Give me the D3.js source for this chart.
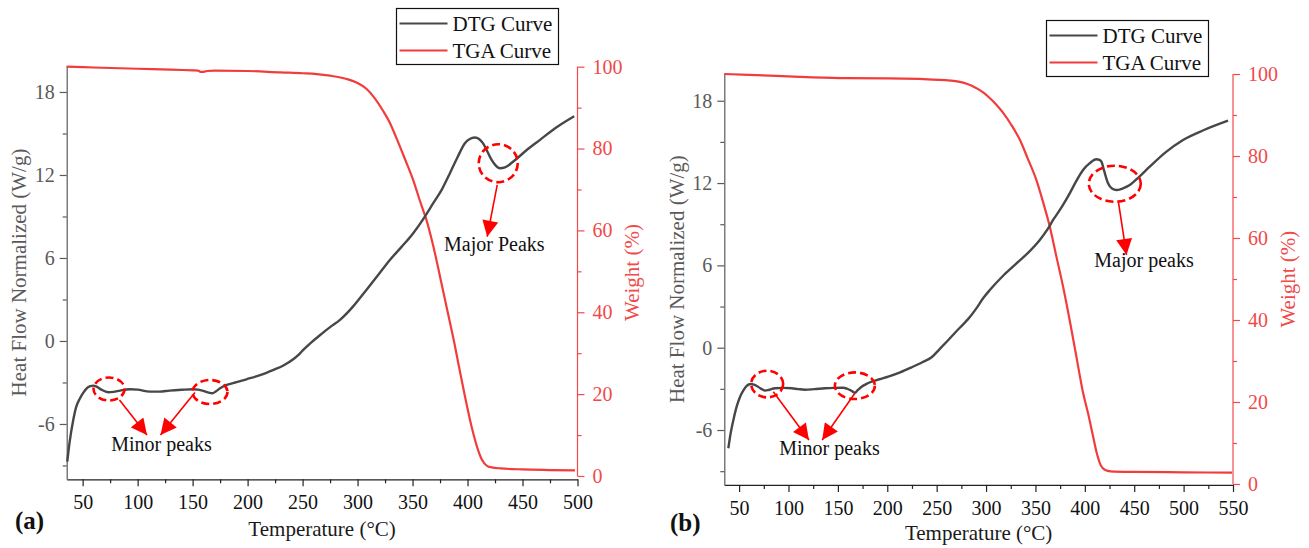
<!DOCTYPE html>
<html>
<head>
<meta charset="utf-8">
<script src="https://cdn.jsdelivr.net/npm/d3@7/dist/d3.min.js"></script>
<style>
  body { margin: 0; background: #fff; }
  svg { font-family: "Liberation Serif", "Times New Roman", serif; }
</style>
</head>
<body>
<div id="canvas"></div>
<script>
// ---- data ----
// panel (a)
var tempA_dtg = [36, 38, 41.5, 44, 47.6, 50.5, 53.7, 57, 59.7, 62.7, 67, 73.3, 78, 84, 93, 100, 111, 120, 129, 140,
  150.6, 155, 159.7, 164, 168, 171, 175, 181, 190, 199, 212, 223, 233, 241.5, 247, 250.6, 258, 266, 275, 284,
  296, 308, 318, 329.4, 340, 350.6, 360, 368.8, 377, 384, 391, 397.6, 402, 406.7, 410.5, 414, 418, 421.9, 425.5,
  429.5, 434, 441.6, 453, 465.9, 480, 497];
var dtgA = [-8.73, -7.4, -5.7, -4.8, -4.14, -3.75, -3.42, -3.27, -3.23, -3.3, -3.52, -3.71, -3.68, -3.59, -3.49, -3.52, -3.66, -3.66, -3.59, -3.53,
  -3.49, -3.52, -3.61, -3.72, -3.78, -3.65, -3.42, -3.18, -2.98, -2.77, -2.45, -2.1, -1.75, -1.32, -0.95, -0.65, -0.1, 0.43, 1.0, 1.52,
  2.5, 3.69, 4.7, 5.86, 6.8, 7.79, 8.85, 9.96, 11.0, 12.13, 13.3, 14.3, 14.6, 14.71, 14.6, 14.3, 13.7, 13.09, 12.7,
  12.49, 12.55, 12.97, 13.75, 14.54, 15.4, 16.25];
var tempA_tga = [35.5, 60, 100, 130, 150, 155, 157, 160, 163, 170, 200, 230, 250, 263, 275, 290, 300, 308, 315, 323,
  329, 335, 343, 350.6, 357, 362.7, 369, 375, 382, 388, 392, 398, 402, 405.6, 409, 413, 418, 422, 430, 450, 475, 497.7];
var tgaA = [100, 99.8, 99.5, 99.3, 99.1, 99.05, 98.75, 98.75, 98.95, 99.05, 98.95, 98.6, 98.4, 98.2, 97.8, 97.0, 96.0, 94.6, 92.5, 89.3,
  86.5, 82.8, 77.5, 72.3, 67, 62.5, 56, 48.7, 40, 32.5, 27, 19, 14, 10, 6.8, 4.0, 2.4, 2.1, 1.85, 1.6, 1.45, 1.35];

// panel (b)
var tempB_dtg = [39.1, 41.5, 44.2, 47.5, 51, 54.5, 57.7, 60.5, 62.7, 65, 67.8, 72, 76.2, 80, 86.3, 95, 103.2, 110, 116.7, 126,
  136.9, 146, 155.5, 159, 162.2, 165, 167.3, 170, 174, 179, 184.2, 192, 201, 213, 224.7, 235, 244.9, 253, 261.8, 270,
  276.8, 282, 290, 297, 303.8, 318, 330.8, 343, 354.4, 362, 367.9, 377, 384.7, 391, 398.2, 405, 411.7, 414.5, 416.8,
  419.5, 423.5, 427.5, 432, 438, 445.5, 455, 465.7, 482, 499.4, 520, 545];
var dtgB = [-7.33, -6.2, -5.27, -4.3, -3.57, -3.1, -2.79, -2.66, -2.65, -2.7, -2.79, -2.98, -3.13, -3.08, -2.96, -2.93, -2.96, -3.02, -3.06, -3.02,
  -2.96, -2.93, -2.92, -2.98, -3.08, -3.2, -3.28, -3.1, -2.84, -2.64, -2.48, -2.3, -2.11, -1.8, -1.43, -1.08, -0.7, -0.1, 0.56, 1.2,
  1.7, 2.1, 2.85, 3.6, 4.2, 5.3, 6.15, 6.95, 7.85, 8.6, 9.31, 10.3, 11.25, 12.1, 12.95, 13.45, 13.73, 13.7, 13.56,
  12.9, 11.98, 11.6, 11.49, 11.6, 11.86, 12.45, 13.19, 14.25, 15.14, 15.85, 16.55];
var tempB_tga = [35, 60, 100, 152.5, 200, 259, 276.8, 285, 292, 297, 302, 310, 317.3, 325, 334.1, 342, 351, 358, 364.5, 371,
  378, 385, 391.5, 398, 403.5, 408, 412, 416, 420.6, 426, 450, 500, 549];
var tgaB = [100, 99.8, 99.4, 99.0, 98.95, 98.5, 97.9, 97.2, 96.3, 95.5, 94.5, 92.6, 90.5, 87.8, 84.0, 79.5, 74.1, 68.5, 62.8, 55.7,
  48.1, 39.5, 31, 22.5, 17, 12, 7.6, 4.6, 3.4, 3.1, 2.95, 2.85, 2.76];

// ticks
var dtgTicks = [-6, 0, 6, 12, 18];
var dtgMinor = [-9, -3, 3, 9, 15];
var tgaTicks = [0, 20, 40, 60, 80, 100];
var tgaMinor = [10, 30, 50, 70, 90];
var tempTicksA = [50, 100, 150, 200, 250, 300, 350, 400, 450, 500];
var tempMinorA = [75, 125, 175, 225, 275, 325, 375, 425, 475];
var tempTicksB = [50, 100, 150, 200, 250, 300, 350, 400, 450, 500, 550];
var tempMinorB = [75, 125, 175, 225, 275, 325, 375, 425, 475, 525];

var seriesNames = ["DTG Curve", "TGA Curve"];

var GRAY = "#474747", AXGRAY = "#5a5a5a", RED = "#f23c3c", AXRED = "#f04a4a", ANN = "#ff0000";

var svg = d3.select("#canvas").append("svg")
  .attr("width", 1309)
  .attr("height", 548);

svg.append("defs").append("marker")
  .attr("id", "head")
  .attr("viewBox", "0 0 10 10")
  .attr("refX", 10).attr("refY", 5)
  .attr("markerUnits", "userSpaceOnUse")
  .attr("markerWidth", 17).attr("markerHeight", 16)
  .attr("orient", "auto")
  .append("path")
  .attr("d", "M0,0 L10,5 L0,10 Z")
  .attr("fill", ANN);

function drawPanel(p) {
  var x = d3.scaleLinear().domain(p.xDomain).range(p.xRange);
  var y = d3.scaleLinear().domain(p.yDomain).range(p.yRange);
  var y2 = d3.scaleLinear().domain(p.y2Domain).range(p.yRange);
  var g = svg.append("g");

  // axes
  var bottom = g.append("g").attr("transform", "translate(0," + p.yRange[0] + ")");
  bottom.call(d3.axisBottom(x).tickValues(p.xTicks).tickSize(7).tickSizeOuter(0).tickPadding(9).tickFormat((d) => d));
  bottom.append("g").call(d3.axisBottom(x).tickValues(p.xMinor).tickSize(4).tickFormat(""))
    .select(".domain").remove();
  bottom.selectAll("path,line").attr("stroke", "#222").attr("stroke-width", 1.2);
  bottom.selectAll("text").attr("fill", "#111").attr("font-size", "20px").attr("font-family", "Liberation Serif");

  var left = g.append("g").attr("transform", "translate(" + p.xRange[0] + ",0)");
  left.call(d3.axisLeft(y).tickValues(dtgTicks).tickSize(7).tickSizeOuter(0).tickPadding(5).tickFormat((d) => String(d)));
  left.append("g").call(d3.axisLeft(y).tickValues(dtgMinor).tickSize(4).tickFormat(""))
    .select(".domain").remove();
  left.selectAll("path,line").attr("stroke", AXGRAY).attr("stroke-width", 1.2);
  left.selectAll("text").attr("fill", AXGRAY).attr("font-size", "20px").attr("font-family", "Liberation Serif");

  var right = g.append("g").attr("transform", "translate(" + p.xRange[1] + ",0)");
  right.call(d3.axisRight(y2).tickValues(tgaTicks).tickSize(7).tickSizeOuter(0).tickPadding(8));
  right.append("g").call(d3.axisRight(y2).tickValues(tgaMinor).tickSize(4).tickFormat(""))
    .select(".domain").remove();
  right.select(".domain").attr("d", "M0," + y2(100) + "V" + y2(0));
  right.selectAll("path,line").attr("stroke", AXRED).attr("stroke-width", 1.2);
  right.selectAll("text").attr("fill", AXRED).attr("font-size", "20px").attr("font-family", "Liberation Serif");

  // axis titles
  var xMid = (p.xRange[0] + p.xRange[1]) / 2, yMid = (p.yRange[0] + p.yRange[1]) / 2;
  g.append("text")
    .attr("x", xMid).attr("y", p.xTitleY)
    .attr("text-anchor", "middle").attr("font-size", "21px").attr("fill", "#1a1a1a")
    .text("Temperature (\u00B0C)");
  g.append("text")
    .attr("transform", "translate(" + p.yTitleX + "," + yMid + ") rotate(-90)")
    .attr("text-anchor", "middle").attr("font-size", "21px").attr("fill", AXGRAY)
    .text("Heat Flow Normalized (W/g)");
  g.append("text")
    .attr("transform", "translate(" + p.y2TitleX + "," + yMid + ") rotate(-90)")
    .attr("text-anchor", "middle").attr("font-size", "21px").attr("fill", AXRED)
    .text("Weight (%)");
  g.append("text")
    .attr("x", p.tag[0]).attr("y", p.tag[1])
    .attr("font-size", "25px").attr("font-weight", "bold").attr("fill", "#111")
    .text(p.tagText);

  // curves
  var line = d3.line().curve(d3.curveMonotoneX);
  g.append("path")
    .attr("d", line(p.tgaT.map((t, i) => [x(t), y2(p.tga[i])])))
    .attr("fill", "none").attr("stroke", RED).attr("stroke-width", 2.2);
  g.append("path")
    .attr("d", line(p.dtgT.map((t, i) => [x(t), y(p.dtg[i])])))
    .attr("fill", "none").attr("stroke", GRAY).attr("stroke-width", 2.4);

  // annotations
  p.ellipses.forEach((e) => {
    g.append("ellipse")
      .attr("cx", x(e[0])).attr("cy", y(e[1])).attr("rx", e[2]).attr("ry", e[3])
      .attr("fill", "none").attr("stroke", ANN).attr("stroke-width", 2.6)
      .attr("stroke-dasharray", "8,4");
  });
  p.arrows.forEach((a) => {
    g.append("line")
      .attr("x1", x(a[0])).attr("y1", y(a[1])).attr("x2", x(a[2])).attr("y2", y(a[3]))
      .attr("stroke", ANN).attr("stroke-width", 1.6)
      .attr("marker-end", "url(#head)");
  });
  p.notes.forEach((n) => {
    g.append("text")
      .attr("x", x(n[0])).attr("y", y(n[1]))
      .attr("text-anchor", "middle").attr("font-size", "20px").attr("fill", "#111")
      .text(n[2]);
  });

  // legend
  var lg = g.append("g").attr("transform", "translate(" + p.legend[0] + "," + p.legend[1] + ")");
  lg.append("rect").attr("width", 162).attr("height", 56)
    .attr("fill", "#fff").attr("stroke", "#111").attr("stroke-width", 1.2);
  seriesNames.forEach((name, i) => {
    lg.append("line")
      .attr("x1", 3).attr("x2", 51).attr("y1", 15 + i * 27).attr("y2", 15 + i * 27)
      .attr("stroke", i === 0 ? GRAY : RED).attr("stroke-width", 2.2);
    lg.append("text")
      .attr("x", 56).attr("y", 22 + i * 27)
      .attr("font-size", "21px").attr("fill", "#111")
      .text(name);
  });
}

drawPanel({
  xDomain: [35.5, 500], xRange: [66.7, 577.5],
  yDomain: [-10, 19.9], y2Domain: [-0.81, 100.24], yRange: [479.3, 65.7],
  xTicks: tempTicksA, xMinor: tempMinorA,
  dtgT: tempA_dtg, dtg: dtgA, tgaT: tempA_tga, tga: tgaA,
  xTitleY: 536, yTitleX: 26, y2TitleX: 639, tag: [15, 529], tagText: "(a)",
  legend: [396.5, 8.5],
  ellipses: [[74, -3.47, 15.5, 11.5], [165.8, -3.69, 17.5, 12], [427.9, 12.85, 19.5, 19]],
  arrows: [[83.5, -4.27, 108.5, -6.8], [152.1, -3.72, 120.8, -6.8], [427, 11.28, 417.9, 7.54]],
  notes: [[121.7, -7.99, "Minor peaks"], [424.4, 6.53, "Major Peaks"]]
});

drawPanel({
  xDomain: [35, 550], xRange: [724.3, 1233],
  yDomain: [-10, 20], y2Domain: [-0.22, 100.17], yRange: [484.9, 73.3],
  xTicks: tempTicksB, xMinor: tempMinorB,
  dtgT: tempB_dtg, dtg: dtgB, tgaT: tempB_tga, tga: tgaB,
  xTitleY: 540, yTitleX: 684, y2TitleX: 1295, tag: [670, 531], tagText: "(b)",
  legend: [1046.5, 20.5],
  ellipses: [[78.4, -2.65, 16, 13.3], [167.2, -2.77, 20, 13.3], [430.3, 11.95, 26, 18]],
  arrows: [[84.6, -3.21, 120.7, -6.73], [167.2, -3.32, 134.1, -6.73], [434.1, 10.57, 442.2, 6.76]],
  notes: [[141.4, -7.82, "Minor peaks"], [459.9, 5.86, "Major peaks"]]
});
</script>
</body>
</html>
